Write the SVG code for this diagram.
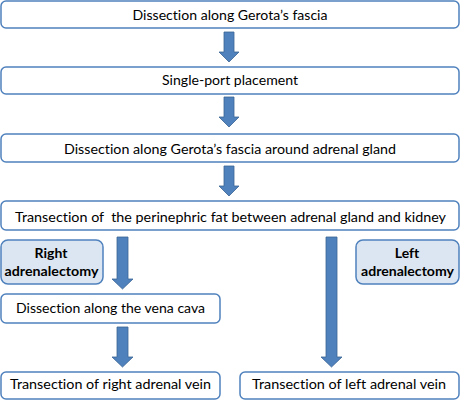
<svg xmlns="http://www.w3.org/2000/svg" width="460" height="400" viewBox="0 0 460 400">
<style>
.box{fill:#ffffff;stroke:#4f81bd;stroke-width:1.5}
.lbl{fill:#dce6f2;stroke:#4f81bd;stroke-width:1.5}
.arr{fill:#4f81bd;stroke:#3b6494;stroke-width:0.8}
text{font-family:Lato,"Open Sans",sans-serif;font-size:14px;fill:#000;text-anchor:middle;white-space:pre;font-variant-ligatures:none}
.b{font-weight:bold}
</style>
<rect width="460" height="400" fill="#ffffff"/>
<g id="connectors">
<path class="arr" d="M224,32 H234 V52 H239 L229,62 L219,52 H224 Z"/>
<path class="arr" d="M224,97 H234 V117 H239 L229,127 L219,117 H224 Z"/>
<path class="arr" d="M224,166 H234 V186 H239 L229,196 L219,186 H224 Z"/>
<path class="arr" d="M117,237 H128 V279 H133 L122.5,289 L112,279 H117 Z"/>
<path class="arr" d="M326,237 H337 V357 H342 L331.5,367 L321,357 H326 Z"/>
<path class="arr" d="M117,327 H128 V357 H133 L122.5,367 L112,357 H117 Z"/>
</g>
<g id="n1"><rect class="box" x="1" y="1" width="458" height="27" rx="5"/><text x="230" y="19.5" textLength="195" lengthAdjust="spacingAndGlyphs">Dissection along Gerota’s fascia</text></g>
<g id="n2"><rect class="box" x="1" y="67" width="458" height="27" rx="5"/><text x="230" y="85" textLength="136" lengthAdjust="spacingAndGlyphs">Single-port placement</text></g>
<g id="n3"><rect class="box" x="1" y="134" width="458" height="28" rx="5"/><text x="230" y="153.5" textLength="332" lengthAdjust="spacingAndGlyphs">Dissection along Gerota’s fascia around adrenal gland</text></g>
<g id="n4"><rect class="box" x="1" y="201" width="458" height="29" rx="5"/><text x="230.5" y="221.5" textLength="431" lengthAdjust="spacingAndGlyphs" xml:space="preserve">Transection of  the perinephric fat between adrenal gland and kidney</text></g>
<g id="right"><rect class="lbl" x="1" y="240" width="102" height="44" rx="7"/><text class="b" x="51" y="258">Right</text><text class="b" x="51.5" y="276" textLength="94" lengthAdjust="spacingAndGlyphs">adrenalectomy</text></g>
<g id="left"><rect class="lbl" x="356" y="240" width="103" height="44" rx="7"/><text class="b" x="407" y="258">Left</text><text class="b" x="407.5" y="276" textLength="93" lengthAdjust="spacingAndGlyphs">adrenalectomy</text></g>
<g id="n5"><rect class="box" x="1" y="294" width="219" height="29" rx="5"/><text x="110.5" y="313" textLength="189" lengthAdjust="spacingAndGlyphs">Dissection along the vena cava</text></g>
<g id="n6"><rect class="box" x="1" y="372" width="219" height="27" rx="5"/><text x="110.5" y="389" textLength="201" lengthAdjust="spacingAndGlyphs">Transection of right adrenal vein</text></g>
<g id="n7"><rect class="box" x="240" y="372" width="219" height="27" rx="5"/><text x="349" y="389" textLength="194" lengthAdjust="spacingAndGlyphs">Transection of left adrenal vein</text></g>
</svg>
